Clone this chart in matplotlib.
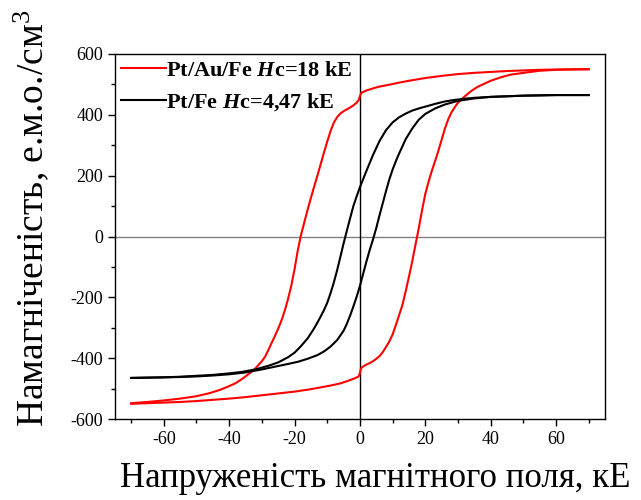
import matplotlib
matplotlib.use("Agg")
import matplotlib.pyplot as plt
from matplotlib.ticker import MultipleLocator

plt.rcParams['font.family'] = ['Liberation Serif', 'DejaVu Serif']
plt.rcParams['axes.unicode_minus'] = False
plt.rcParams['mathtext.fontset'] = 'custom'
plt.rcParams['mathtext.it'] = 'Liberation Serif:italic:bold'
plt.rcParams['mathtext.rm'] = 'Liberation Serif'

# Pt/Au/Fe, Hc = 18 kE: descending branch (field +70 -> -70)
ptaufe_down_h = [70, 65, 60, 55, 50, 45, 40, 35, 30, 25, 20, 15, 12, 9, 6, 4, 2,
                 0.5, 0, -0.3, -1, -2, -3, -4, -5, -6, -7, -8, -9, -10, -11, -12,
                 -13, -14, -15, -16, -17, -18, -19, -20, -21, -22, -23, -24, -25,
                 -26, -27, -28, -29, -30, -32, -34, -36, -38, -40, -43, -46, -50,
                 -55, -60, -65, -70]
ptaufe_down_m = [550, 550, 549, 548, 546, 544, 541, 538, 534, 528, 521, 512, 506,
                 499, 493, 487, 480, 473, 462, 450, 440, 431, 424, 418, 412, 404,
                 392, 374, 346, 312, 276, 238, 200, 164, 127, 88, 47, 6, -45, -108,
                 -162, -206, -244, -276, -303, -327, -350, -373, -395, -410, -434,
                 -452, -468, -482, -492, -505, -515, -525, -533, -539, -544, -548]

# Pt/Au/Fe: ascending branch (field -70 -> +70)
ptaufe_up_h = [-70, -65, -60, -55, -50, -45, -40, -35, -30, -25, -20, -15, -12,
               -9, -6, -4, -2, -0.5, 0, 0.3, 1, 2, 3, 4, 5, 6, 7, 8, 9, 10, 11,
               12, 13, 14, 15, 16, 17, 18, 19, 20, 21, 22, 23, 24, 25, 26, 27, 28,
               29, 30, 32, 34, 36, 38, 40, 43, 46, 50, 55, 60, 65, 70]
ptaufe_up_m = [-550, -548, -546, -544, -541, -537, -533, -528, -522, -516, -510,
               -502, -496, -490, -483, -476, -468, -461, -450, -434, -427, -421,
               -416, -410, -402, -393, -380, -363, -345, -322, -291, -258, -225,
               -180, -132, -82, -27, 27, 86, 140, 180, 216, 248, 282, 318, 355,
               385, 408, 425, 440, 460, 478, 492, 502, 512, 523, 532, 538, 545,
               548, 549, 550]

# Pt/Fe, Hc = 4.47 kE: descending branch
ptfe_down_h = [70, 65, 60, 55, 50, 45, 40, 35, 32, 29, 26, 23, 20, 18, 16, 14, 12,
               10, 8, 6, 4, 2, 0, -1, -2, -3, -4, -5, -6, -7, -8, -9, -10, -11,
               -12, -13, -14, -16, -18, -20, -22, -25, -28, -32, -36, -40, -45,
               -50, -55, -60, -65, -70]
ptfe_down_m = [465, 465, 465, 464, 463, 461, 459, 456, 453, 449, 444, 436, 427,
               421, 414, 404, 392, 375, 350, 314, 268, 216, 162, 132, 100, 60, 19,
               -23, -68, -112, -152, -187, -218, -242, -263, -283, -302, -335,
               -360, -382, -397, -414, -425, -437, -445, -450, -455, -458, -461,
               -463, -464, -465]

# Pt/Fe: ascending branch
ptfe_up_h = [-70, -65, -60, -55, -50, -45, -40, -35, -30, -26, -22, -19, -16, -13,
             -11, -9, -7, -5, -4, -3, -2, -1, 0, 1, 2, 3, 4, 5, 6, 7, 8, 9, 10,
             11, 12, 14, 16, 18, 20, 23, 26, 30, 35, 40, 45, 50, 55, 60, 65, 70]
ptfe_up_m = [-465, -464, -463, -462, -460, -457, -453, -447, -437, -428, -419,
             -412, -402, -390, -378, -362, -341, -310, -287, -260, -230, -198,
             -163, -122, -82, -44, -10, 28, 70, 110, 150, 188, 220, 248, 273, 320,
             355, 384, 403, 421, 434, 446, 454, 459, 461, 463, 464, 465, 465, 465]

fig = plt.figure(figsize=(6.41, 5.0), dpi=100)
ax = fig.add_axes([0.179, 0.162, 0.765, 0.730])

ax.axhline(0, color='#808080', lw=1.0, zorder=1)
ax.axvline(0, color='black', lw=1.0, zorder=1)

ax.plot(ptaufe_down_h, ptaufe_down_m, color='red', lw=1.5,
        label=r'Pt/Au/Fe $H$c=18 kE')
ax.plot(ptaufe_up_h, ptaufe_up_m, color='red', lw=1.5)
ax.plot(ptfe_down_h, ptfe_down_m, color='black', lw=1.5,
        label=r'Pt/Fe $H$c=4,47 kE')
ax.plot(ptfe_up_h, ptfe_up_m, color='black', lw=1.5)

ax.set_xlim(-75, 75)
ax.set_ylim(-600, 600)
ax.xaxis.set_major_locator(MultipleLocator(20))
ax.xaxis.set_minor_locator(MultipleLocator(10))
ax.yaxis.set_major_locator(MultipleLocator(200))
ax.yaxis.set_minor_locator(MultipleLocator(100))
ax.tick_params(which='both', direction='out', top=False, right=False,
               labelsize=13, width=1.0)
ax.tick_params(which='major', length=5)
ax.tick_params(which='minor', length=3)
for sp in ax.spines.values():
    sp.set_linewidth(1.0)

ax.set_xlabel('Напруженість магнітного поля, кЕ', fontsize=25)
ax.xaxis.set_label_coords(0.531, -0.118)
ax.xaxis.label.set_va('top')
ax.set_ylabel(r'Намагніченість, е.м.о./см$^\mathregular{3}$', fontsize=27)
ax.yaxis.set_label_coords(-0.13, 0.55)

ax.legend(loc='upper left', bbox_to_anchor=(0.0, 1.0), frameon=False,
          borderaxespad=0.1, borderpad=0.2, handlelength=2.0,
          handletextpad=0.0, labelspacing=0.45,
          prop={'weight': 'bold', 'size': 16})

fig.savefig('out.png', dpi=100)
